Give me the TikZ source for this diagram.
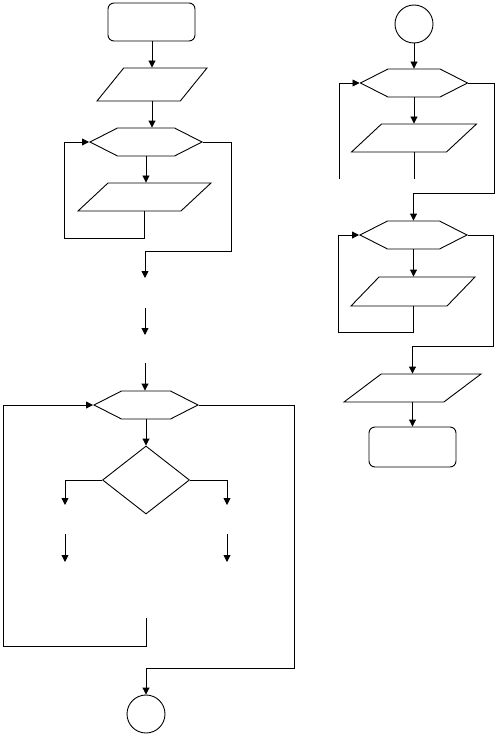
\documentclass[tikz,border=0pt]{standalone}
\usepackage{tikz}
\usetikzlibrary{shapes.geometric, shapes.symbols, arrows.meta, calc}

\begin{document}
\begin{tikzpicture}[
  x=1bp, y=-1bp,
  line width=0.9bp,
  terminal/.style={
    rectangle,
    draw,
    rounded corners=6bp,
    inner sep=0pt,
    minimum width=87bp,
    minimum height=#1},
  terminal/.default=38bp,
  iobox/.style={
    trapezium,
    trapezium left angle=#1,
    trapezium right angle=180-#1,
    trapezium stretches body=true,
    draw,
    inner xsep=0pt,
    inner ysep=14bp},
  iobox/.default=45,
  loophex/.style={
    signal,
    signal to=east and west,
    signal pointer angle=54,
    draw,
    inner sep=0pt,
    minimum height=28bp,
    minimum width=#1},
  loophex/.default=107bp,
  decision/.style={
    diamond,
    draw,
    inner sep=0pt,
    minimum width=87bp,
    minimum height=68bp},
  connector/.style={
    circle,
    draw,
    inner sep=0pt,
    minimum size=38bp},
  flow/.style={
    -{Triangle[length=7bp,width=7bp]}},
]
\useasboundingbox (0,0) rectangle (497,736);

% left column
\node[terminal] (start) at (151.5,22) {};
\node[iobox=51, minimum width=110bp, inner ysep=16.5bp] (in1) at (152,84.5) {};
\node[loophex=112bp] (loop1) at (146,142) {};
\node[iobox=43, minimum width=133bp] (out1) at (144.5,197) {};

\coordinate (back1) at (64,238);
\coordinate (exit1) at (231,251);
\coordinate (gapA) at (145,278);
\coordinate (gapB) at (145,308);
\coordinate (gapC) at (145,335);
\coordinate (gapD) at (145,363);

\node[loophex=104bp] (loop2) at (146,405) {};
\node[decision] (test) at (146,480) {};

\coordinate (yesA) at (65,505);
\coordinate (yesB) at (65,534);
\coordinate (yesC) at (65,562);
\coordinate (noA) at (227,505);
\coordinate (noB) at (227,534);
\coordinate (noC) at (227,562);
\coordinate (tail2) at (146,618);
\coordinate (back2) at (3,646);
\coordinate (exit2) at (294,668);

\node[connector] (conn1) at (146,714) {};

% right column
\node[connector] (conn2) at (414,24) {};
\node[loophex] (loop3) at (414,83) {};
\node[iobox=43, minimum width=125bp] (in3) at (414,138) {};

\coordinate (back3) at (339,179);
\coordinate (exit3) at (494,193);

\node[loophex] (loop4) at (413.5,235) {};
\node[iobox=46, minimum width=124bp, inner ysep=14.5bp] (in4) at (413,291.5) {};

\coordinate (back4) at (338,332);
\coordinate (exit4) at (493,346);

\node[iobox=37, minimum width=137bp] (out5) at (412.5,388) {};
\node[terminal=40bp] (finish) at (412.5,447) {};

% connectors, left
\draw[flow] (start.south -| in1.north) -- (in1.north);
\draw[flow] (in1.south) -- (in1.south |- loop1.north);
\draw[flow] (loop1.south) -- (loop1.south |- out1.north);
\draw[flow] (out1.south) |- (back1) |- (loop1.west);
\draw[flow] (loop1.east) -| (exit1) -| (gapA);
\draw[flow] (gapB) -- (gapC);
\draw[flow] (gapD) -- (gapD |- loop2.north);
\draw[flow] (loop2.south) -- (test.north);
\draw[flow] (test.west) -| (yesA);
\draw[flow] (test.east) -| (noA);
\draw[flow] (yesB) -- (yesC);
\draw[flow] (noB) -- (noC);
\draw[flow] (tail2) |- (back2) |- (loop2.west);
\draw[flow] (loop2.east) -| (exit2) -| (conn1.north);

% connectors, right
\draw[flow] (conn2.south) -- (loop3.north);
\draw[flow] (loop3.south) -- (in3.north);
\draw (in3.south) -- (in3.south |- back3);
\draw[flow] (back3) |- (loop3.west);
\draw[flow] (loop3.east) -| (exit3) -| (loop4.north);
\draw[flow] (loop4.south) -- (loop4.south |- in4.north);
\draw[flow] (in4.south) |- (back4) |- (loop4.west);
\draw[flow] (loop4.east) -| (exit4) -| (out5.north);
\draw[flow] (out5.south) -- (finish.north);

\end{tikzpicture}
\end{document}
